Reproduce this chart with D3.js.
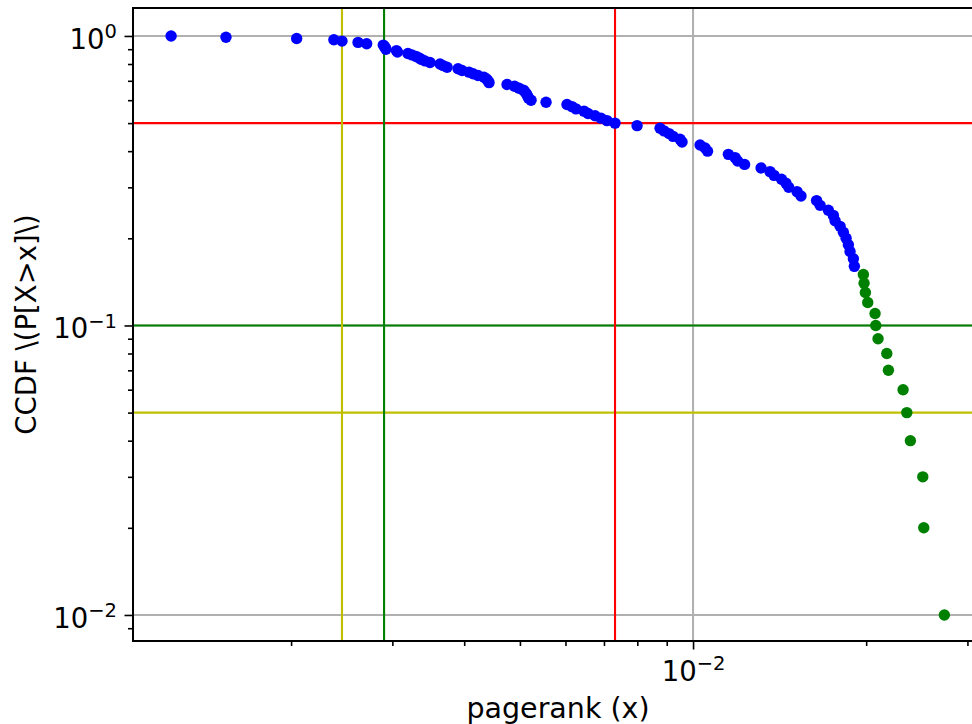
<!DOCTYPE html>
<html>
<head>
<meta charset="utf-8">
<script src="https://cdn.jsdelivr.net/npm/d3@7"></script>
<style>
  body { margin: 0; background: #fff; }
  svg { display: block; }
  text { font-family: "DejaVu Sans", sans-serif; fill: #000; }
</style>
</head>
<body>
<svg id="chart" width="972" height="724"></svg>
<script>
// PageRank values of the nodes (ascending) and their CCDF P[X>=x]
const blueRank = [
  0.001237, 0.001541, 0.002045, 0.002374, 0.002452, 0.002615, 0.002707, 0.002893, 0.002907, 0.002916,
  0.002924, 0.003050, 0.003062, 0.003193, 0.003245, 0.003298, 0.003338, 0.003371, 0.003419, 0.003488,
  0.003631, 0.003675, 0.003735, 0.003903, 0.003966, 0.004078, 0.004145, 0.004228, 0.004330, 0.004374,
  0.004400, 0.004418, 0.004748, 0.004893, 0.004982, 0.005072, 0.005103, 0.005134, 0.005155, 0.005176,
  0.005228, 0.005551, 0.006037, 0.006159, 0.006258, 0.006462, 0.006567, 0.006754, 0.006918, 0.007086,
  0.007317, 0.007992, 0.008762, 0.008903, 0.009083, 0.009231, 0.009493, 0.009570, 0.010285, 0.010492,
  0.010598, 0.011519, 0.011834, 0.011954, 0.012293, 0.013130, 0.013609, 0.013830, 0.014250, 0.014508,
  0.014666, 0.015164, 0.015408, 0.016398, 0.016630, 0.017191, 0.017539, 0.017660, 0.018017, 0.018255,
  0.018454, 0.018625, 0.018750, 0.019002, 0.019077
];
const blueCcdf = [
  1.00, 0.99, 0.98, 0.97, 0.96, 0.95, 0.94, 0.93, 0.92, 0.91,
  0.90, 0.89, 0.88, 0.87, 0.86, 0.85, 0.84, 0.83, 0.82, 0.81,
  0.80, 0.79, 0.78, 0.77, 0.76, 0.75, 0.74, 0.73, 0.72, 0.71,
  0.70, 0.69, 0.68, 0.67, 0.66, 0.65, 0.64, 0.63, 0.62, 0.61,
  0.60, 0.59, 0.58, 0.57, 0.56, 0.55, 0.54, 0.53, 0.52, 0.51,
  0.50, 0.49, 0.48, 0.47, 0.46, 0.45, 0.44, 0.43, 0.42, 0.41,
  0.40, 0.39, 0.38, 0.37, 0.36, 0.35, 0.34, 0.33, 0.32, 0.31,
  0.30, 0.29, 0.28, 0.27, 0.26, 0.25, 0.24, 0.23, 0.22, 0.21,
  0.20, 0.19, 0.18, 0.17, 0.16
];
// Top-ranked tail
const greenRank = [
  0.019778, 0.019833, 0.019938, 0.020127, 0.020725, 0.020783, 0.020975, 0.021722, 0.021862, 0.023185,
  0.023535, 0.023874, 0.025090, 0.025189, 0.027353
];
const greenCcdf = [
  0.15, 0.14, 0.13, 0.12, 0.11, 0.10, 0.09, 0.08, 0.07, 0.06,
  0.05, 0.04, 0.03, 0.02, 0.01
];

// Reference lines
const hLineValues = [0.5, 0.1, 0.05];
const hLineColors = ["#ff0000", "#008000", "#bfbf00"];
const vLineValues = [0.007317, 0.002902, 0.002452];
const vLineColors = ["#ff0000", "#008000", "#bfbf00"];

// Ticks
const yTickValues = [1, 0.1, 0.01];
const yTickExponents = ["0", "\u22121", "\u22122"];
const yMinorTicks = [0.009, 0.02, 0.03, 0.04, 0.05, 0.06, 0.07, 0.08, 0.09,
                     0.2, 0.3, 0.4, 0.5, 0.6, 0.7, 0.8, 0.9];
const xTickValues = [0.01];
const xTickExponents = ["\u22122"];
const xMinorTicks = [0.002, 0.003, 0.004, 0.005, 0.006, 0.007, 0.008, 0.009, 0.02, 0.03];

const xLabel = "pagerank (x)";
const yLabel = "CCDF \\(P[X>x]\\)";

const svg = d3.select("#chart");
const plotLeft = 133, plotTop = 8, plotRight = 983, plotBottom = 641;

const x = d3.scaleLog().domain([0.001062, 0.03193]).range([plotLeft, plotRight]);
const y = d3.scaleLog().domain([0.00813, 1.249]).range([plotBottom, plotTop]);

// Grid at major ticks
const grid = svg.append("g");
grid.selectAll("line.gy").data(yTickValues).join("line")
  .attr("x1", plotLeft).attr("x2", plotRight)
  .attr("y1", d => y(d)).attr("y2", d => y(d))
  .attr("stroke", "#b0b0b0").attr("stroke-width", 2);
grid.selectAll("line.gx").data(xTickValues).join("line")
  .attr("x1", d => x(d)).attr("x2", d => x(d))
  .attr("y1", plotTop).attr("y2", plotBottom)
  .attr("stroke", "#b0b0b0").attr("stroke-width", 2);

// Horizontal then vertical reference lines
svg.append("g").selectAll("line").data(hLineValues).join("line")
  .attr("x1", plotLeft).attr("x2", plotRight)
  .attr("y1", d => y(d)).attr("y2", d => y(d))
  .attr("stroke", (d, i) => hLineColors[i]).attr("stroke-width", 2.1);
svg.append("g").selectAll("line").data(vLineValues).join("line")
  .attr("x1", d => x(d)).attr("x2", d => x(d))
  .attr("y1", plotTop).attr("y2", plotBottom)
  .attr("stroke", (d, i) => vLineColors[i]).attr("stroke-width", 2.1);

// Points
svg.append("g").selectAll("circle").data(blueRank).join("circle")
  .attr("cx", d => x(d)).attr("cy", (d, i) => y(blueCcdf[i]))
  .attr("r", 5.7).attr("fill", "#0000ff");
svg.append("g").selectAll("circle").data(greenRank).join("circle")
  .attr("cx", d => x(d)).attr("cy", (d, i) => y(greenCcdf[i]))
  .attr("r", 5.7).attr("fill", "#008000");

// Axes
function styleAxis(g) {
  g.select(".domain").remove();
  g.selectAll(".tick line").attr("stroke", "#000").attr("stroke-width", 1.6);
}
const yMajor = svg.append("g").attr("transform", `translate(${plotLeft},0)`)
  .call(d3.axisLeft(y).tickValues(yTickValues).tickSize(8.5).tickFormat(""))
  .call(styleAxis);
yMajor.selectAll(".tick").each(function(d, i) {
  const t = d3.select(this).append("text")
    .attr("x", -16).attr("y", 12.5)
    .attr("text-anchor", "end")
    .style("font-size", "27.5px");
  t.append("tspan").text("10");
  t.append("tspan").attr("dy", -10.5).style("font-size", "19.5px").text(yTickExponents[i]);
});
svg.append("g").attr("transform", `translate(${plotLeft},0)`)
  .call(d3.axisLeft(y).tickValues(yMinorTicks).tickSize(5).tickFormat(""))
  .call(styleAxis);

const xMajor = svg.append("g").attr("transform", `translate(0,${plotBottom})`)
  .call(d3.axisBottom(x).tickValues(xTickValues).tickSize(8.5).tickFormat(""))
  .call(styleAxis);
xMajor.selectAll(".tick").each(function(d, i) {
  const t = d3.select(this).append("text")
    .attr("x", 0).attr("y", 39.5)
    .attr("text-anchor", "middle")
    .style("font-size", "27.5px");
  t.append("tspan").text("10");
  t.append("tspan").attr("dy", -10.5).style("font-size", "19.5px").text(xTickExponents[i]);
});
svg.append("g").attr("transform", `translate(0,${plotBottom})`)
  .call(d3.axisBottom(x).tickValues(xMinorTicks).tickSize(5).tickFormat(""))
  .call(styleAxis);

// Spines
svg.append("rect")
  .attr("x", plotLeft).attr("y", plotTop)
  .attr("width", plotRight - plotLeft).attr("height", plotBottom - plotTop)
  .attr("fill", "none").attr("stroke", "#000").attr("stroke-width", 2);

// Axis labels
svg.append("text")
  .attr("x", (plotLeft + plotRight) / 2).attr("y", 718)
  .attr("text-anchor", "middle")
  .style("font-size", "28.5px")
  .text(xLabel);
svg.append("text")
  .attr("transform", `translate(36,${(plotTop + plotBottom) / 2}) rotate(-90)`)
  .attr("text-anchor", "middle")
  .style("font-size", "27.5px")
  .text(yLabel);
</script>
</body>
</html>
